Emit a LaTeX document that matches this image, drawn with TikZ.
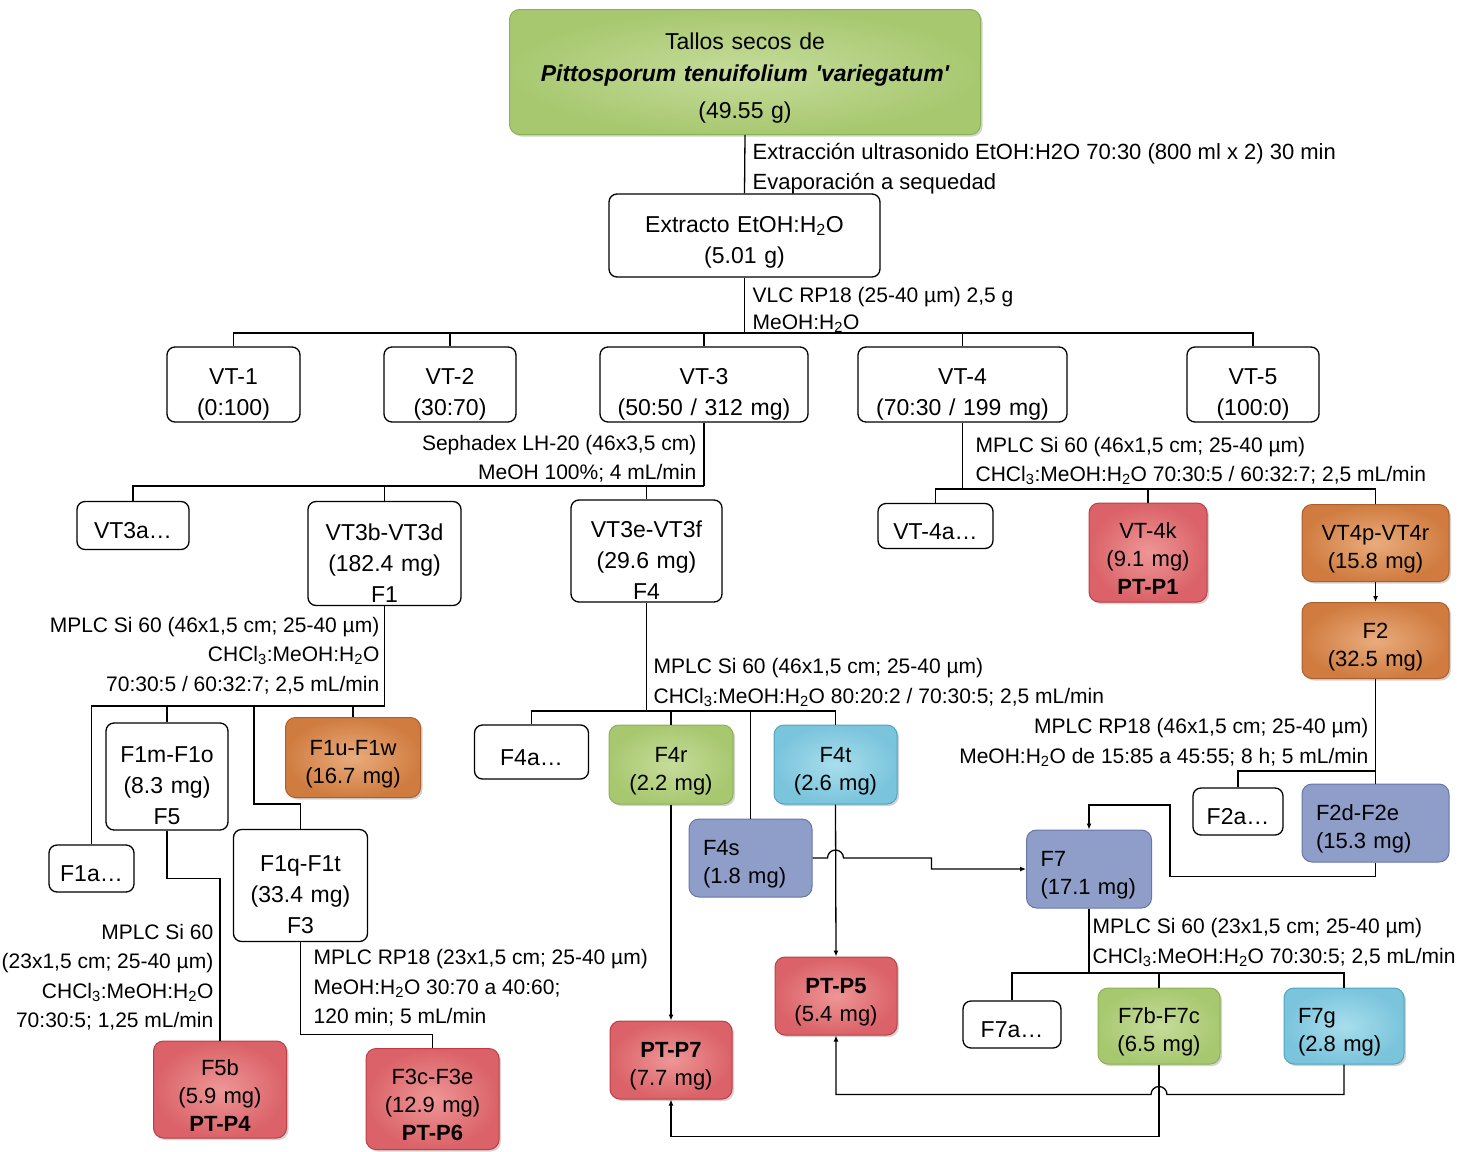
\documentclass[tikz,border=0pt]{standalone}
\usepackage{fontspec}
\setmainfont{Liberation Sans}
\usetikzlibrary{arrows.meta,shadows}

\definecolor{leaf-green}{RGB}{168,200,112}
\definecolor{leaf-green-light}{RGB}{198,220,155}
\definecolor{leaf-green-dark}{RGB}{138,178,82}
\definecolor{pale-red}{RGB}{218,98,104}
\definecolor{pale-red-light}{RGB}{238,150,150}
\definecolor{pale-red-dark}{RGB}{190,62,68}
\definecolor{soft-orange}{RGB}{208,124,64}
\definecolor{soft-orange-light}{RGB}{233,172,125}
\definecolor{soft-orange-dark}{RGB}{172,94,44}
\definecolor{slate-blue}{RGB}{143,158,201}
\definecolor{slate-blue-dark}{RGB}{102,118,166}
\definecolor{sky-cyan}{RGB}{122,196,220}
\definecolor{sky-cyan-light}{RGB}{168,222,236}
\definecolor{sky-cyan-dark}{RGB}{78,164,194}

\newcommand{\boxfont}{\fontsize{23}{31}\selectfont}
\newcommand{\colfont}{\fontsize{22}{28}\selectfont}
\newcommand{\notefont}{\fontsize{21}{29.5}\selectfont}

\begin{document}
\begin{tikzpicture}[
        x=1pt, y=-1pt,
        line width=1.3pt,
        sz/.code 2 args={\pgfmathsetmacro\boxtw{#1-12}%
            \pgfkeysalso{minimum width=#1, minimum height=#2, text width=\boxtw pt}},
        boxrise/.store in=\boxrise, boxrise=28pt,
        base/.style={draw, rounded corners=8pt, align=center, inner sep=0pt,
            execute at begin node={\rule{0pt}{\boxrise}}},
        plainbox/.style={base, fill=white, font=\boxfont, boxrise=35pt},
        onerow/.style={boxrise=27pt},
        colbox/.style={base, rounded corners=10pt, line width=1pt, font=\colfont, boxrise=28pt,
            drop shadow={shadow xshift=2pt, shadow yshift=-2pt, opacity=.35}},
        greenbox/.style={colbox, draw=leaf-green-dark, inner color=leaf-green-light, outer color=leaf-green},
        redbox/.style={colbox, draw=pale-red-dark, inner color=pale-red-light, outer color=pale-red},
        orangebox/.style={colbox, draw=soft-orange-dark, inner color=soft-orange-light, outer color=soft-orange},
        cyanbox/.style={colbox, draw=sky-cyan-dark, inner color=sky-cyan-light, outer color=sky-cyan},
        bluebox/.style={base, rounded corners=10pt, line width=1pt, font=\colfont, boxrise=27pt,
            fill=slate-blue, draw=slate-blue-dark},
        lefttext/.style={text width=#1, align=left},
        notes/.style={inner sep=0pt, font=\notefont, align=left},
        arr/.style={-{Latex[length=6pt,width=5pt]}},
    ]
    \useasboundingbox (0,0) rectangle (1469,1151);

    % start material and crude extract
    \node[greenbox, font=\boxfont, sz={471}{125}] (tallos) at (745,72)
        {Tallos secos de\\[1pt]{\bfseries\itshape Pittosporum tenuifolium \textquotesingle variegatum\textquotesingle}\\[6pt](49.55 g)};
    \node[plainbox, boxrise=29pt, sz={271}{83}] (extr) at (744.5,235.5) {Extracto EtOH:H\textsubscript{2}O\\(5.01 g)};
    \node[notes, anchor=west, font=\fontsize{22}{30}\selectfont] (n-extr) at (752,169) {Extracción ultrasonido EtOH:H2O 70:30 (800 ml x 2) 30 min\\Evaporación a sequedad};
    \draw (tallos.south) -- (extr.north);

    % VLC fractions
    \node[plainbox, sz={133}{75}] (vt1) at (233.5,384.5) {VT-1\\(0:100)};
    \node[plainbox, sz={132}{75}] (vt2) at (450,384.5) {VT-2\\(30:70)};
    \node[plainbox, sz={208}{75}] (vt3) at (704,384.5) {VT-3\\(50:50 / 312 mg)};
    \node[plainbox, sz={209}{75}] (vt4) at (962.5,384.5) {VT-4\\(70:30 / 199 mg)};
    \node[plainbox, sz={132}{75}] (vt5) at (1253,384.5) {VT-5\\(100:0)};
    \node[notes, anchor=west] (n-vlc) at (752,310) {VLC RP18 (25-40 µm) 2,5 g\\[-2pt]MeOH:H\textsubscript{2}O};
    \coordinate (bus-vt) at (744.5,333);
    \draw (extr.south) -- (bus-vt);
    \foreach \k in {vt1,vt2,vt3,vt4,vt5}
        \draw (bus-vt) -| (\k.north);

    % VT-3 on Sephadex
    \node[plainbox, onerow, sz={112}{48}] (vt3a) at (133,525.5) {VT3a\dots};
    \node[plainbox, sz={153}{104}] (vt3bd) at (384.5,553.5) {VT3b-VT3d\\(182.4 mg)\\F1};
    \node[plainbox, sz={151}{102}] (vt3ef) at (646.5,551) {VT3e-VT3f\\(29.6 mg)\\F4};
    \node[notes, anchor=east, align=right] (n-seph) at (697,458.5) {Sephadex LH-20 (46x3,5 cm)\\MeOH 100\%; 4 mL/min};
    \coordinate (bus-vt3) at (704,486);
    \draw (vt3.south) -- (bus-vt3);
    \foreach \k in {vt3a,vt3bd,vt3ef}
        \draw (bus-vt3) -| (\k.north);

    % VT-4 on MPLC Si 60
    \node[plainbox, onerow, sz={115}{45}] (vt4a) at (935.5,526) {VT-4a\dots};
    \node[redbox, sz={118}{99}] (vt4k) at (1148,552.5) {VT-4k\\(9.1 mg)\\\textbf{PT-P1}};
    \node[orangebox, sz={147}{77}] (vt4pr) at (1375.5,543) {VT4p-VT4r\\(15.8 mg)};
    \node[orangebox, sz={147}{76}] (f2) at (1375.5,640.5) {F2\\(32.5 mg)};
    \node[notes, anchor=west] (n-vt4) at (975,461)
        {MPLC Si 60 (46x1,5 cm; 25-40 µm)\\CHCl\textsubscript{3}:MeOH:H\textsubscript{2}O 70:30:5 / 60:32:7; 2,5 mL/min};
    \coordinate (bus-vt4) at (962.5,489);
    \draw (vt4.south) -- (bus-vt4);
    \foreach \k in {vt4a,vt4k,vt4pr}
        \draw (bus-vt4) -| (\k.north);
    \draw[arr] (vt4pr.south) -- (f2.north);

    % F2 on MPLC RP18
    \node[plainbox, onerow, sz={90}{47}] (f2a) at (1238,811.5) {F2a\dots};
    \node[bluebox, sz={147}{78}, lefttext=119pt] (f2de) at (1375.5,823) {F2d-F2e\\(15.3 mg)};
    \node[notes, anchor=east, align=right] (n-f2) at (1369,742.5)
        {MPLC RP18 (46x1,5 cm; 25-40 µm)\\MeOH:H\textsubscript{2}O de 15:85 a 45:55; 8 h; 5 mL/min};
    \coordinate (bus-f2) at (1375.5,771);
    \draw (f2.south) -- (f2de.north);
    \draw (bus-f2) -| (f2a.north);

    % F1 on MPLC Si 60
    \node[plainbox, onerow, sz={85}{47}] (f1a) at (91.5,868.5) {F1a\dots};
    \node[plainbox, sz={122}{107}] (f1mo) at (167,776.5) {F1m-F1o\\(8.3 mg)\\F5};
    \node[orangebox, sz={135}{80}] (f1uw) at (353,757.5) {F1u-F1w\\(16.7 mg)};
    \node[plainbox, sz={134}{112}] (f1qt) at (300.5,885.5) {F1q-F1t\\(33.4 mg)\\F3};
    \node[notes, anchor=east, align=right] (n-f1) at (380,655.5)
        {MPLC Si 60 (46x1,5 cm; 25-40 µm)\\CHCl\textsubscript{3}:MeOH:H\textsubscript{2}O\\70:30:5 / 60:32:7; 2,5 mL/min};
    \coordinate (bus-f1) at (384.5,706);
    \coordinate (bend-f1q) at (254,804);
    \draw (vt3bd.south) -- (bus-f1);
    \foreach \k in {f1a,f1mo,f1uw}
        \draw (bus-f1) -| (\k.north);
    \draw (bus-f1) -| (bend-f1q) -| (f1qt.north);

    % F5 and F3
    \node[redbox, sz={133}{97}] (f5b) at (220,1089.5) {F5b\\(5.9 mg)\\\textbf{PT-P4}};
    \node[redbox, sz={133}{101}] (f3ce) at (432.5,1099) {F3c-F3e\\(12.9 mg)\\\textbf{PT-P6}};
    \node[notes, anchor=east, align=right] (n-f5) at (214,977)
        {MPLC Si 60\\(23x1,5 cm; 25-40 µm)\\CHCl\textsubscript{3}:MeOH:H\textsubscript{2}O\\70:30:5; 1,25 mL/min};
    \node[notes, anchor=west] (n-f3) at (313,988)
        {MPLC RP18 (23x1,5 cm; 25-40 µm)\\MeOH:H\textsubscript{2}O 30:70 a 40:60;\\120 min; 5 mL/min};
    \draw (f1mo.south) -- ++(0,48) -| (f5b.north);
    \draw (f1qt.south) -- ++(0,92) -| (f3ce.north);

    % F4 on MPLC Si 60
    \node[plainbox, onerow, sz={114}{54}] (f4a) at (531.5,752) {F4a\dots};
    \node[greenbox, sz={124}{79}] (f4r) at (671,764.5) {F4r\\(2.2 mg)};
    \node[bluebox, sz={123}{78}, lefttext=95pt] (f4s) at (750.5,858) {F4s\\(1.8 mg)};
    \node[cyanbox, sz={123}{79}] (f4t) at (835.5,764.5) {F4t\\(2.6 mg)};
    \node[notes, anchor=west] (n-f4) at (653,682.5)
        {MPLC Si 60 (46x1,5 cm; 25-40 µm)\\CHCl\textsubscript{3}:MeOH:H\textsubscript{2}O 80:20:2 / 70:30:5; 2,5 mL/min};
    \coordinate (bus-f4) at (646.5,711);
    \draw (vt3ef.south) -- (bus-f4);
    \foreach \k in {f4a,f4r,f4s,f4t}
        \draw (bus-f4) -| (\k.north);

    % pure compounds and F7
    \node[redbox, sz={122}{78}] (pt5) at (836,996) {\textbf{PT-P5}\\(5.4 mg)};
    \node[redbox, sz={122}{78}] (pt7) at (671,1060) {\textbf{PT-P7}\\(7.7 mg)};
    \node[bluebox, sz={125}{78}, lefttext=97pt] (f7) at (1089,869) {F7\\(17.1 mg)};
    \draw[arr] (f4r.south) -- (pt7.north);
    \draw[arr] (f4t.south) -- (pt5.north);
    \draw[arr] (f4s.east) -- ++(15,0) arc[start angle=180, end angle=0, radius=8pt] -- ++(88,0) |- (f7.west);
    \draw[arr] (f2de.south) -- ++(0,14) -| (1170,805) -| (f7.north);

    % F7 on MPLC Si 60
    \node[plainbox, onerow, sz={98}{47}] (f7a) at (1012,1024.5) {F7a\dots};
    \node[greenbox, sz={122}{76}] (f7bc) at (1159,1026) {F7b-F7c\\(6.5 mg)};
    \node[cyanbox, sz={120}{76}, lefttext=92pt] (f7g) at (1344,1026) {F7g\\(2.8 mg)};
    \node[notes, anchor=west] (n-f7) at (1092,942.5)
        {MPLC Si 60 (23x1,5 cm; 25-40 µm)\\CHCl\textsubscript{3}:MeOH:H\textsubscript{2}O 70:30:5; 2,5 mL/min};
    \coordinate (bus-f7) at (1089,973);
    \draw (f7.south) -- (bus-f7);
    \foreach \k in {f7a,f7bc,f7g}
        \draw (bus-f7) -| (\k.north);
    \draw[arr] (f7bc.south) -- ++(0,72) -| (pt7.south);
    \draw[arr] (f7g.south) -- ++(0,30) -- ++(-177,0) arc[start angle=0, end angle=180, radius=8pt] -| (pt5.south);
\end{tikzpicture}
\end{document}
